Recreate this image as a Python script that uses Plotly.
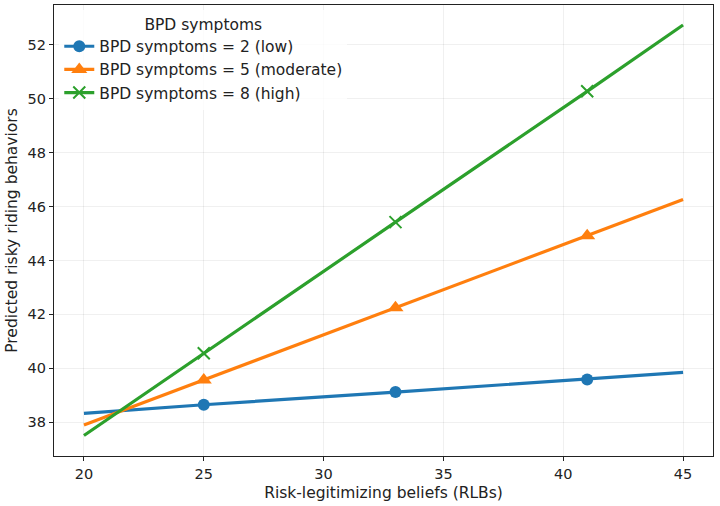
import plotly.graph_objects as go

# Data
rlb = [20, 25, 33, 41, 45]
low = [38.33, 38.65, 39.12, 39.59, 39.85]
moderate = [37.90, 39.57, 42.25, 44.92, 46.26]
high = [37.51, 40.56, 45.42, 50.27, 52.73]

series_names = ["BPD symptoms = 2 (low)", "BPD symptoms = 5 (moderate)", "BPD symptoms = 8 (high)"]
colors = ["#1f77b4", "#ff7f0e", "#2ca02c"]
symbols = ["circle", "triangle-up", "x-thin"]
marker_sizes = [12, 14, 12]
x_ticks = [20, 25, 30, 35, 40, 45]
y_ticks = [38, 40, 42, 44, 46, 48, 50, 52]

FONT = "DejaVu Sans, sans-serif"
fig = go.Figure()
for name, ys, c, sym, ms in zip(series_names, [low, moderate, high], colors, symbols, marker_sizes):
    fig.add_trace(go.Scatter(
        x=rlb, y=ys, mode="lines", line=dict(color=c, width=3.2),
        showlegend=False, hoverinfo="skip"))
    mk = dict(color=c, size=ms, symbol=sym)
    if sym == "x-thin":
        mk["line"] = dict(color=c, width=2)
    fig.add_trace(go.Scatter(
        x=rlb[1:-1], y=ys[1:-1], mode="markers", marker=mk, showlegend=False))
    # legend entry
    fig.add_trace(go.Scatter(
        x=[None], y=[None], mode="lines+markers", name=name,
        line=dict(color=c, width=3.2), marker=mk))

axis_common = dict(
    showline=True, mirror=True, linecolor="#222", linewidth=1.2,
    ticks="outside", ticklen=4, tickcolor="#222", tickwidth=1,
    showgrid=True, gridcolor="rgba(0,0,0,0.06)", gridwidth=1,
    zeroline=False, tickfont=dict(family=FONT, size=14.5, color="#222"),
)
fig.update_xaxes(range=[18.75, 46.25], tickvals=x_ticks,
                 title=dict(text="Risk-legitimizing beliefs (RLBs)", font=dict(family=FONT, size=15.5, color="#222"), standoff=6),
                 **axis_common)
fig.update_yaxes(range=[36.75, 53.47], tickvals=y_ticks,
                 title=dict(text="Predicted risky riding behaviors", font=dict(family=FONT, size=15.5, color="#222"), standoff=6),
                 **axis_common)
fig.update_layout(
    width=720, height=506,
    margin=dict(l=54, r=7, t=5, b=50),
    paper_bgcolor="white", plot_bgcolor="white",
    font=dict(family=FONT, color="#222"),
    legend=dict(
        x=0.008, y=0.99, xanchor="left", yanchor="top",
        bgcolor="rgba(255,255,255,0.8)", borderwidth=0,
        font=dict(family=FONT, size=15.5, color="#222"),
        title=dict(text="BPD symptoms", side="top center", font=dict(family=FONT, size=15.5, color="#222")),
        itemwidth=30,
    ),
)
fig.write_html("out.html")
